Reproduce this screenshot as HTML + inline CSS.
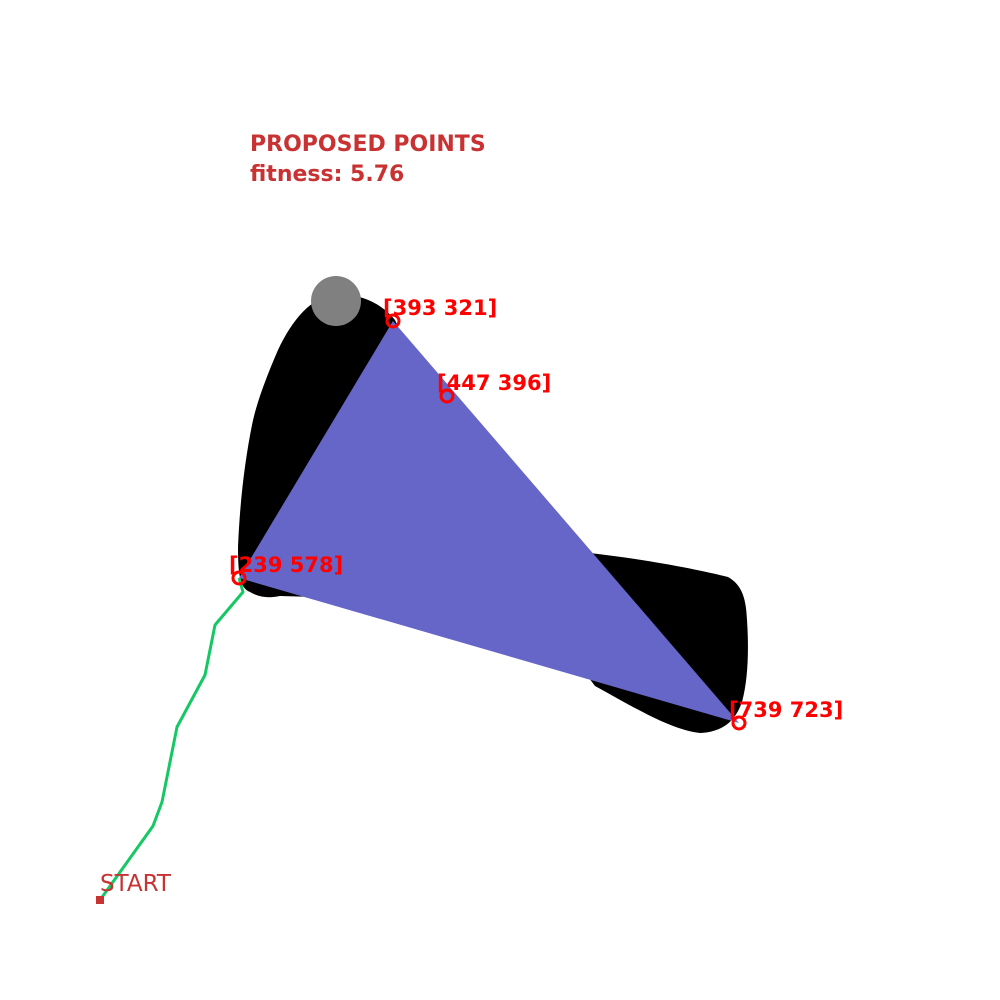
<!DOCTYPE html>
<html><head><meta charset="utf-8"><style>
html,body{margin:0;padding:0;background:#fff;}
svg{display:block;}
text{font-family:"DejaVu Sans","Liberation Sans",sans-serif;font-weight:bold;}
</style></head><body>
<svg width="1000" height="1000" viewBox="0 0 1000 1000">
<rect width="1000" height="1000" fill="#fff"/>
<path fill="#000"
 d="M395,320 C380,302 360,294 336,294 C312,296 292,320 278,350 C265,380 256,405 252,425 C245,460 240,500 238,547 C238,575 240,588 250,592 C260,598 270,598 280,596 L420,600 L590,553 C650,560 700,570 728,577 C742,585 746,598 747,620 C749,650 748,680 742,702 C735,722 722,732 700,733 C670,730 630,705 595,686 L500,560 Z"/>
<circle cx="336" cy="301" r="25" fill="#808080"/>
<polygon id="tri" fill="#6666c8"/>
<polyline id="path" fill="none" stroke="#14c864" stroke-width="3" stroke-linejoin="round"/>
<g id="pts"></g>
<rect x="96" y="896" width="8" height="8" fill="#c83232"/>
<text x="100" y="891" fill="#c83232" font-size="23" style="font-weight:normal">START</text>
<text x="250" y="151" fill="#c83232" font-size="22">PROPOSED POINTS</text>
<text x="250" y="181" fill="#c83232" font-size="22">fitness: 5.76</text>
</svg>
<script>
const triX=[393,239,739];
const triY=[321,578,723];
const ptX=[393,447,239,739];
const ptY=[321,396,578,723];
const pathX=[100,153,162,177,205,215,243,239];
const pathY=[900,826,802,727,675,625,592,578];
document.getElementById('tri').setAttribute('points',triX.map((x,i)=>x+','+triY[i]).join(' '));
document.getElementById('path').setAttribute('points',pathX.map((x,i)=>x+','+pathY[i]).join(' '));
const g=document.getElementById('pts');
const ns='http://www.w3.org/2000/svg';
ptX.forEach((x,i)=>{
 const c=document.createElementNS(ns,'circle');
 c.setAttribute('cx',x);c.setAttribute('cy',ptY[i]);c.setAttribute('r',6);
 c.setAttribute('fill','none');c.setAttribute('stroke','#ff0000');c.setAttribute('stroke-width',3);
 
 
 g.appendChild(c);
 const t=document.createElementNS(ns,'text');
 t.setAttribute('x',x-10);t.setAttribute('y',ptY[i]-6);
 t.setAttribute('fill','#ff0000');t.setAttribute('font-size','21');
 t.textContent='['+x+' '+ptY[i]+']';
 
 
 g.appendChild(t);
});
</script>
</body></html>
